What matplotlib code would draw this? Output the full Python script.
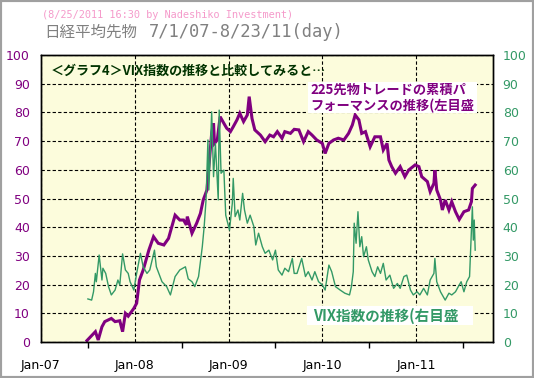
import matplotlib
matplotlib.use('Agg')
import matplotlib.pyplot as plt
from matplotlib.patches import Rectangle

# 225 futures trade cumulative performance (left axis), decimal year / value
perf_year = [2007.49, 2007.58, 2007.61, 2007.65, 2007.68, 2007.75, 2007.79, 2007.84, 2007.87, 2007.90,
             2007.93, 2007.99, 2008.02, 2008.05, 2008.09, 2008.15, 2008.20, 2008.25, 2008.31, 2008.36,
             2008.39, 2008.43, 2008.48, 2008.52, 2008.55, 2008.56, 2008.61, 2008.66, 2008.70, 2008.73,
             2008.77, 2008.79, 2008.82, 2008.84, 2008.85, 2008.88, 2008.91, 2008.95, 2008.98, 2009.02,
             2009.05, 2009.09, 2009.12, 2009.16, 2009.20, 2009.22, 2009.25, 2009.28, 2009.34, 2009.39,
             2009.44, 2009.48, 2009.52, 2009.57, 2009.60, 2009.66, 2009.70, 2009.75, 2009.80, 2009.85,
             2009.89, 2009.94, 2010.00, 2010.03, 2010.07, 2010.12, 2010.17, 2010.23, 2010.28, 2010.32,
             2010.35, 2010.39, 2010.42, 2010.46, 2010.51, 2010.56, 2010.62, 2010.65, 2010.69, 2010.71,
             2010.74, 2010.78, 2010.83, 2010.88, 2010.92, 2010.99, 2011.03, 2011.06, 2011.12, 2011.15,
             2011.19, 2011.20, 2011.22, 2011.26, 2011.28, 2011.31, 2011.35, 2011.38, 2011.42, 2011.46,
             2011.51, 2011.56, 2011.59, 2011.60, 2011.63]
perf_val = [0.5, 3.6, 0.7, 5.3, 7.1, 8.2, 7.1, 7.4, 3.6, 10.0,
            9.0, 11.7, 13.5, 21.6, 25.1, 32.0, 36.7, 34.4, 33.8, 36.1,
            39.6, 44.2, 42.5, 42.5, 40.8, 43.7, 37.9, 41.4, 44.8, 49.5,
            53.0, 61.1, 72.7, 76.2, 69.2, 70.4, 78.5, 76.2, 74.5, 73.3,
            75.0, 77.4, 79.7, 76.8, 79.1, 85.5, 77.9, 73.9, 72.1, 69.8,
            72.1, 71.5, 73.3, 71.0, 73.3, 72.7, 74.1, 73.9, 69.8, 73.3,
            72.1, 70.4, 69.2, 65.7, 69.2, 70.4, 71.0, 70.4, 72.7, 75.6,
            79.1, 77.4, 72.7, 73.3, 68.0, 71.5, 71.5, 66.9, 69.2, 63.4,
            61.1, 58.8, 61.1, 57.6, 59.9, 61.7, 61.1, 57.6, 55.9, 52.4,
            55.3, 59.9, 53.0, 49.5, 46.0, 49.5, 46.0, 48.9, 45.4, 42.7,
            45.4, 46.0, 48.9, 53.5, 54.7]

# VIX index (right axis)
vix_year = [2007.50, 2007.54, 2007.56, 2007.58, 2007.59, 2007.62, 2007.65, 2007.66, 2007.69, 2007.72,
            2007.75, 2007.79, 2007.82, 2007.84, 2007.87, 2007.90, 2007.93, 2007.95, 2007.99, 2008.02,
            2008.06, 2008.09, 2008.13, 2008.16, 2008.21, 2008.23, 2008.29, 2008.34, 2008.38, 2008.43,
            2008.48, 2008.54, 2008.57, 2008.61, 2008.64, 2008.68, 2008.72, 2008.74, 2008.76, 2008.78,
            2008.79, 2008.82, 2008.84, 2008.86, 2008.89, 2008.90, 2008.92, 2008.95, 2008.97, 2009.01,
            2009.04, 2009.05, 2009.07, 2009.10, 2009.12, 2009.15, 2009.17, 2009.20, 2009.23, 2009.27,
            2009.29, 2009.32, 2009.36, 2009.39, 2009.43, 2009.47, 2009.50, 2009.53, 2009.57, 2009.60,
            2009.64, 2009.68, 2009.70, 2009.73, 2009.78, 2009.82, 2009.85, 2009.89, 2009.92, 2009.96,
            2010.00, 2010.03, 2010.07, 2010.10, 2010.14, 2010.19, 2010.24, 2010.29, 2010.31, 2010.33,
            2010.34, 2010.36, 2010.38, 2010.40, 2010.42, 2010.44, 2010.47, 2010.49, 2010.53, 2010.56,
            2010.59, 2010.62, 2010.65, 2010.68, 2010.72, 2010.76, 2010.80, 2010.83, 2010.87, 2010.90,
            2010.94, 2010.97, 2011.01, 2011.04, 2011.08, 2011.12, 2011.15, 2011.19, 2011.20, 2011.22,
            2011.26, 2011.29, 2011.31, 2011.35, 2011.38, 2011.42, 2011.45, 2011.48, 2011.51, 2011.54,
            2011.57, 2011.58, 2011.60, 2011.61, 2011.62, 2011.63]
vix_val = [15.0, 14.6, 17.5, 23.9, 21.0, 30.3, 21.6, 25.7, 23.9, 19.3,
           16.4, 18.1, 21.6, 19.9, 30.7, 25.1, 23.9, 21.0, 18.1, 23.9,
           30.9, 26.2, 23.9, 25.1, 32.0, 26.2, 21.0, 19.3, 16.4, 22.8,
           25.1, 26.2, 22.0, 21.0, 19.3, 22.8, 33.2, 40.2, 49.5, 70.4,
           53.0, 80.2, 57.6, 69.2, 49.5, 80.8, 58.8, 59.9, 44.2, 39.0,
           48.3, 57.0, 43.7, 46.0, 42.5, 51.8, 46.0, 41.4, 44.2, 40.2,
           33.8, 37.9, 33.2, 30.9, 32.0, 28.6, 32.0, 25.1, 23.3, 25.7,
           24.5, 29.1, 23.9, 23.9, 29.1, 22.8, 24.5, 21.6, 24.5, 21.0,
           19.9, 18.1, 26.8, 24.5, 19.3, 18.1, 17.0, 16.4, 19.3, 24.5,
           41.4, 34.4, 45.4, 33.2, 36.7, 29.7, 33.2, 28.6, 24.5, 22.8,
           26.2, 23.9, 27.4, 21.6, 23.3, 18.7, 20.4, 18.7, 22.8, 23.3,
           18.1, 16.4, 17.5, 16.4, 18.7, 16.4, 21.6, 23.9, 29.1, 21.0,
           17.5, 15.8, 14.6, 17.0, 16.4, 17.5, 19.3, 21.0, 17.5, 21.0,
           22.8, 30.9, 47.1, 35.5, 42.5, 32.0]

tick_years = [2007, 2008, 2009, 2010, 2011]
tick_labels = ['Jan-07', 'Jan-08', 'Jan-09', 'Jan-10', 'Jan-11']
mid_years = [2007.5, 2008.5, 2009.5, 2010.5, 2011.5]

PURPLE = '#800080'
GREEN = '#339966'
JP = ['Noto Sans CJK JP', 'DejaVu Sans']

fig = plt.figure(figsize=(5.34, 3.78), dpi=100)
fig.patch.set_facecolor('white')

ax = fig.add_axes([41/534, 36/378, 452/534, 287/378])
ax.set_facecolor('#FCFCDC')
ax2 = ax.twinx()

ax.plot(perf_year, perf_val, color=PURPLE, lw=2.2, solid_joinstyle='miter')
ax2.plot(vix_year, vix_val, color=GREEN, lw=1.0)

for a in (ax, ax2):
    a.set_ylim(0, 100)
    a.set_yticks(range(0, 101, 10))
ax.set_xlim(2007.0, 2011.82)

ax.set_xticks(tick_years)
ax.set_xticklabels(tick_labels, fontsize=9, color='black')
ax.set_xticks(mid_years, minor=True)
ax.tick_params(axis='x', which='major', length=0, pad=12)
ax.tick_params(axis='x', which='minor', length=4, width=1, direction='out', color='black')
ax.tick_params(axis='y', length=0, pad=8, labelsize=9, labelcolor=PURPLE)
ax2.tick_params(axis='y', length=0, pad=7, labelsize=9, labelcolor=GREEN)

ax.grid(True, which='major', color='black', lw=0.8, linestyle=(0, (3, 2)))
ax.set_axisbelow(True)
for a in (ax, ax2):
    for s in a.spines.values():
        s.set_color('black')
        s.set_linewidth(1.0)

# titles
fig.text(42/534, 1 - 15/378, '(8/25/2011 16:30 by Nadeshiko Investment)',
         family=['DejaVu Sans Mono'], fontsize=7.4, color='#F59BCB', va='center')
fig.text(44/534, 1 - 32/378, '日経平均先物',
         family=['Noto Sans CJK JP'], fontsize=11.2, color='#808080', va='center')
fig.text(149/534, 1 - 32/378, '7/1/07-8/23/11(day)',
         family=['DejaVu Sans Mono'], fontsize=12.3, color='#808080', va='center')

# annotation boxes
fig.add_artist(Rectangle((308/534, 1 - 113/378), 169/534, 31/378, transform=fig.transFigure,
                         facecolor='white', edgecolor='none'))
fig.add_artist(Rectangle((307/534, 1 - 325/378), 166/534, 19/378, transform=fig.transFigure,
                         facecolor='white', edgecolor='none'))

fig.text(51/534, 1 - 71/378, '＜グラフ4＞VIX指数の推移と比較してみると…',
         family=JP, fontsize=9.4, weight='bold', color='#003300', va='center')
fig.text(310/534, 1 - 90/378, '225先物トレードの累積パ',
         family=JP, fontsize=9.5, weight='bold', color=PURPLE, va='center')
fig.text(310/534, 1 - 106/378, 'フォーマンスの推移(左目盛',
         family=JP, fontsize=9.5, weight='bold', color=PURPLE, va='center')
fig.text(313/534, 1 - 316/378, 'VIX指数の推移(右目盛',
         family=JP, fontsize=10.5, weight='bold', color=GREEN, va='center')

# outer frame
fig.add_artist(Rectangle((0, 0), 1, 1, transform=fig.transFigure, facecolor='none',
                         edgecolor='#A0A0A0', lw=3))

fig.savefig('out.png', dpi=100)
